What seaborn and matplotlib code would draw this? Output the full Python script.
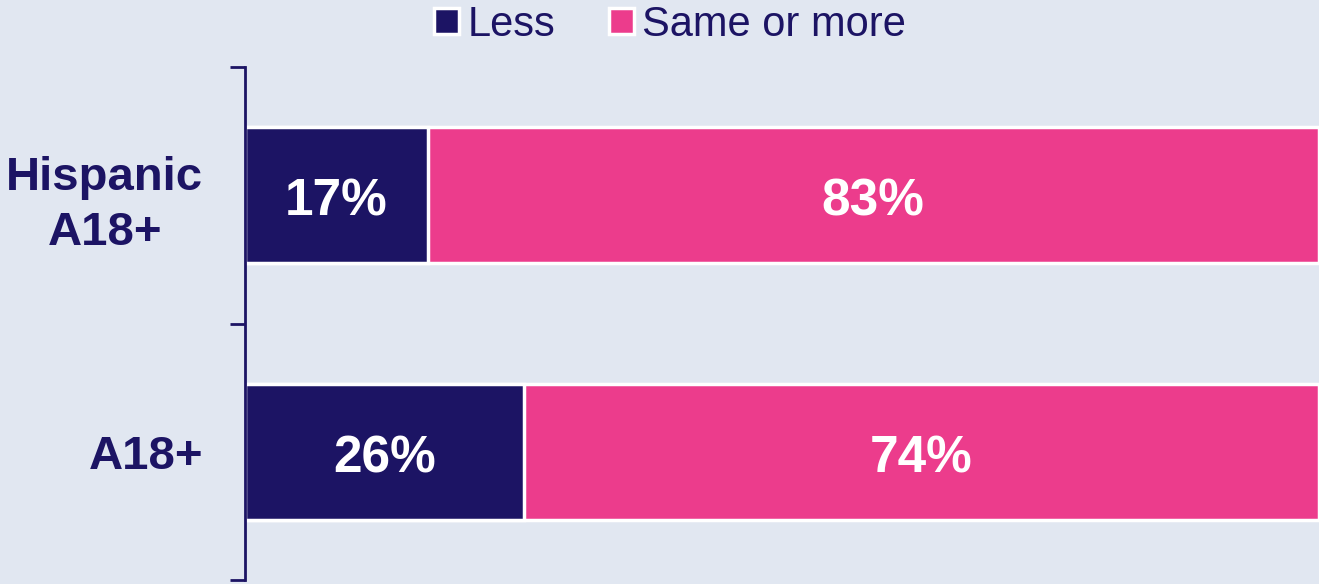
import pandas as pd
import matplotlib.pyplot as plt
import seaborn as sns
from matplotlib.patches import Patch

# Data
groups = ['Hispanic\nA18+', 'A18+']
less_values = [17, 26]
same_more_values = [83, 74]
series_names = ['Less', 'Same or more']

navy = '#1C1464'
pink = '#EC3C8C'
bg = '#E1E7F1'

df = pd.DataFrame({'group': groups, 'less': less_values, 'same': same_more_values})
df['total'] = df['less'] + df['same']

sns.set_style('white')
plt.rcParams['font.family'] = ['Liberation Sans', 'DejaVu Sans']

fig = plt.figure(figsize=(13.19, 5.84), dpi=100)
fig.set_facecolor(bg)
ax = fig.add_axes([245 / 1319, 0.007, 1 - 245 / 1319, 0.878])
ax.set_facecolor(bg)

# stacked bars: full bar in pink, then the "less" part on top in navy
sns.barplot(data=df, x='total', y='group', orient='h', color=pink, saturation=1,
            width=0.53, edgecolor='white', linewidth=2.5, ax=ax)
sns.barplot(data=df, x='less', y='group', orient='h', color=navy, saturation=1,
            width=0.53, edgecolor='white', linewidth=2.5, ax=ax)

# value labels (nudged down a little so the digits sit in the middle)
for i, row in df.iterrows():
    ax.text(row['less'] / 2, i + 0.027, f"{row['less']}%", ha='center', va='center',
            color='white', fontsize=37, fontweight='bold')
    ax.text(row['less'] + row['same'] / 2, i + 0.027, f"{row['same']}%", ha='center',
            va='center', color='white', fontsize=37, fontweight='bold')

ax.set_xlim(0, 100)
ax.set_ylim(1.5, -0.5)
ax.set_xlabel('')
ax.set_ylabel('')
ax.set_xticks([])

# category labels in the middle, ticks at the boundaries
ax.set_yticks([-0.5, 0.5, 1.5])
ax.set_yticklabels([])
ax.set_yticks([0, 1], minor=True)
ax.set_yticklabels(groups, minor=True)
ax.tick_params(axis='y', which='major', left=True, length=11, width=2, color=navy,
               direction='out')
ax.tick_params(axis='y', which='minor', left=True, length=0, pad=30,
               labelsize=34, labelcolor=navy)
for lbl in ax.get_yticklabels(minor=True):
    lbl.set_fontweight('bold')
    lbl.set_multialignment('center')
    lbl.set_linespacing(1.3)

for s in ['top', 'right', 'bottom']:
    ax.spines[s].set_visible(False)
ax.spines['left'].set_color(navy)
ax.spines['left'].set_linewidth(2)

handles = [Patch(facecolor=navy, edgecolor='white', linewidth=2.5),
           Patch(facecolor=pink, edgecolor='white', linewidth=2.5)]
leg = fig.legend(handles, series_names, loc='upper center', bbox_to_anchor=(0.508, 1.056),
                 ncol=2, frameon=False, fontsize=30, handlelength=0.6, handleheight=0.6,
                 handletextpad=0.2, columnspacing=1.3)
for t in leg.get_texts():
    t.set_color(navy)

plt.savefig('out.png', dpi=100, facecolor=bg)
